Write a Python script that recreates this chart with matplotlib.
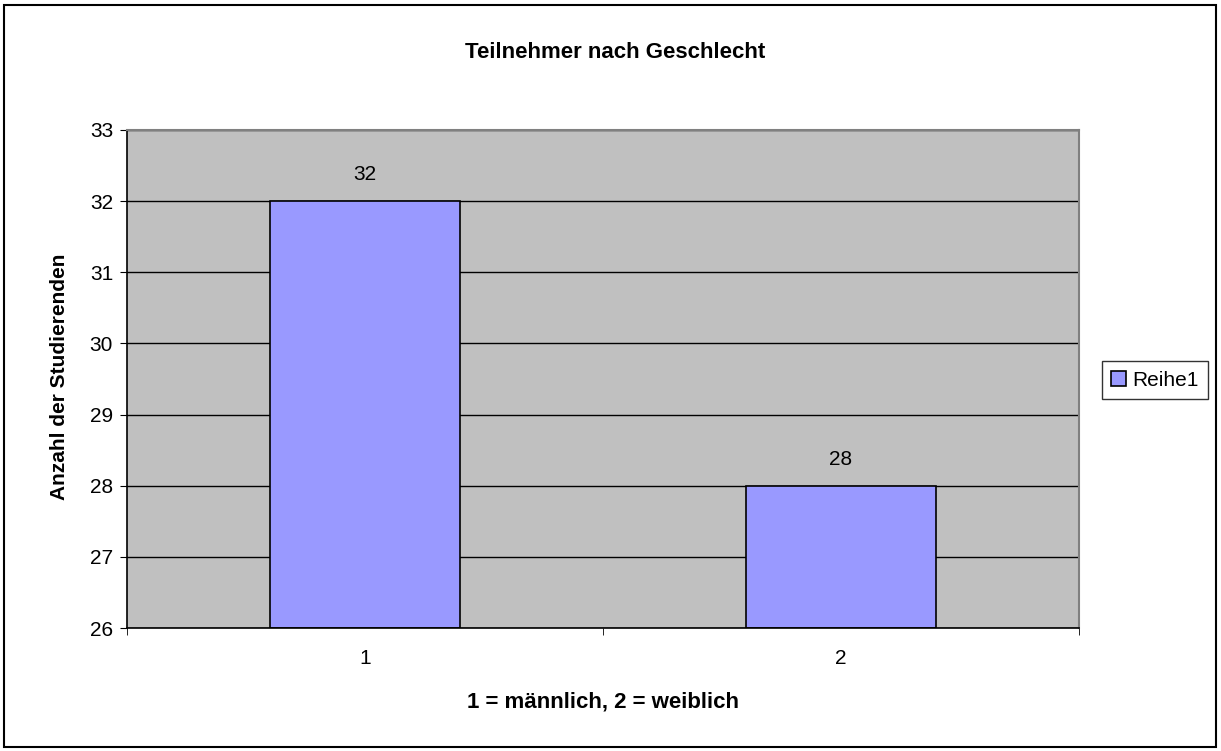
import matplotlib.pyplot as plt
from matplotlib.patches import Rectangle

# data
categories = [1, 2]
tick_labels = ["1", "2"]
values = [32, 28]
series_name = "Reihe1"

plt.rcParams['font.family'] = ['Liberation Sans', 'DejaVu Sans']

fig = plt.figure(figsize=(12.21, 7.51), dpi=100)
ax = fig.add_axes([127/1221, 1 - 628/751, (1079-127)/1221, (628-130)/751])

ax.set_facecolor("#c0c0c0")
ax.set_axisbelow(True)
ax.yaxis.grid(True, color="black", linewidth=1)

bars = ax.bar(categories, [v - 26 for v in values], bottom=26, width=0.4,
              color="#9999ff", edgecolor="black", linewidth=1.2, label=series_name)

# value labels above bars
for x, v in zip(categories, values):
    ax.annotate(str(v), (x, v), xytext=(0, 19), textcoords="offset points",
                ha="center", va="center", fontsize=15)

ax.set_xlim(0.5, 2.5)
ax.set_ylim(26, 33)
ax.set_yticks(range(26, 34))
ax.set_xticks(categories)
ax.set_xticklabels(tick_labels)
ax.set_xticks([0.5, 1.5, 2.5], minor=True)
ax.tick_params(axis="x", which="major", length=0, pad=15, labelsize=15)
ax.tick_params(axis="x", which="minor", length=5, direction="out", color="black")
ax.tick_params(axis="y", length=5, direction="out", labelsize=15, pad=5)

for side in ["top", "right"]:
    ax.spines[side].set_color("#808080")
    ax.spines[side].set_linewidth(1.5)
for side in ["left", "bottom"]:
    ax.spines[side].set_color("black")
    ax.spines[side].set_linewidth(1.2)

fig.text(60/1221, 1 - 377/751, "Anzahl der Studierenden", rotation=90, ha="center", va="center",
         fontsize=15, fontweight="bold")
fig.text(603/1221, 1 - 702/751, "1 = männlich, 2 = weiblich", ha="center", va="center",
         fontsize=16, fontweight="bold")
fig.text(615/1221, 1 - 53/751, "Teilnehmer nach Geschlecht", ha="center", va="center",
         fontsize=16, fontweight="bold")

leg = ax.legend(loc="center left", bbox_to_anchor=(1102/1221, 1 - 380/751),
                bbox_transform=fig.transFigure, frameon=True, fancybox=False,
                fontsize=15, handlelength=0.7, handleheight=0.7, handletextpad=0.3,
                borderpad=0.45, borderaxespad=0)
leg.get_frame().set_edgecolor("black")
leg.get_frame().set_linewidth(1)

# outer frame
fig.patches.append(Rectangle((4/1221, 4/751), 1 - 9/1221, 1 - 9/751, transform=fig.transFigure,
                             fill=False, edgecolor="black", linewidth=1.5))

fig.savefig("out.png", dpi=100)
